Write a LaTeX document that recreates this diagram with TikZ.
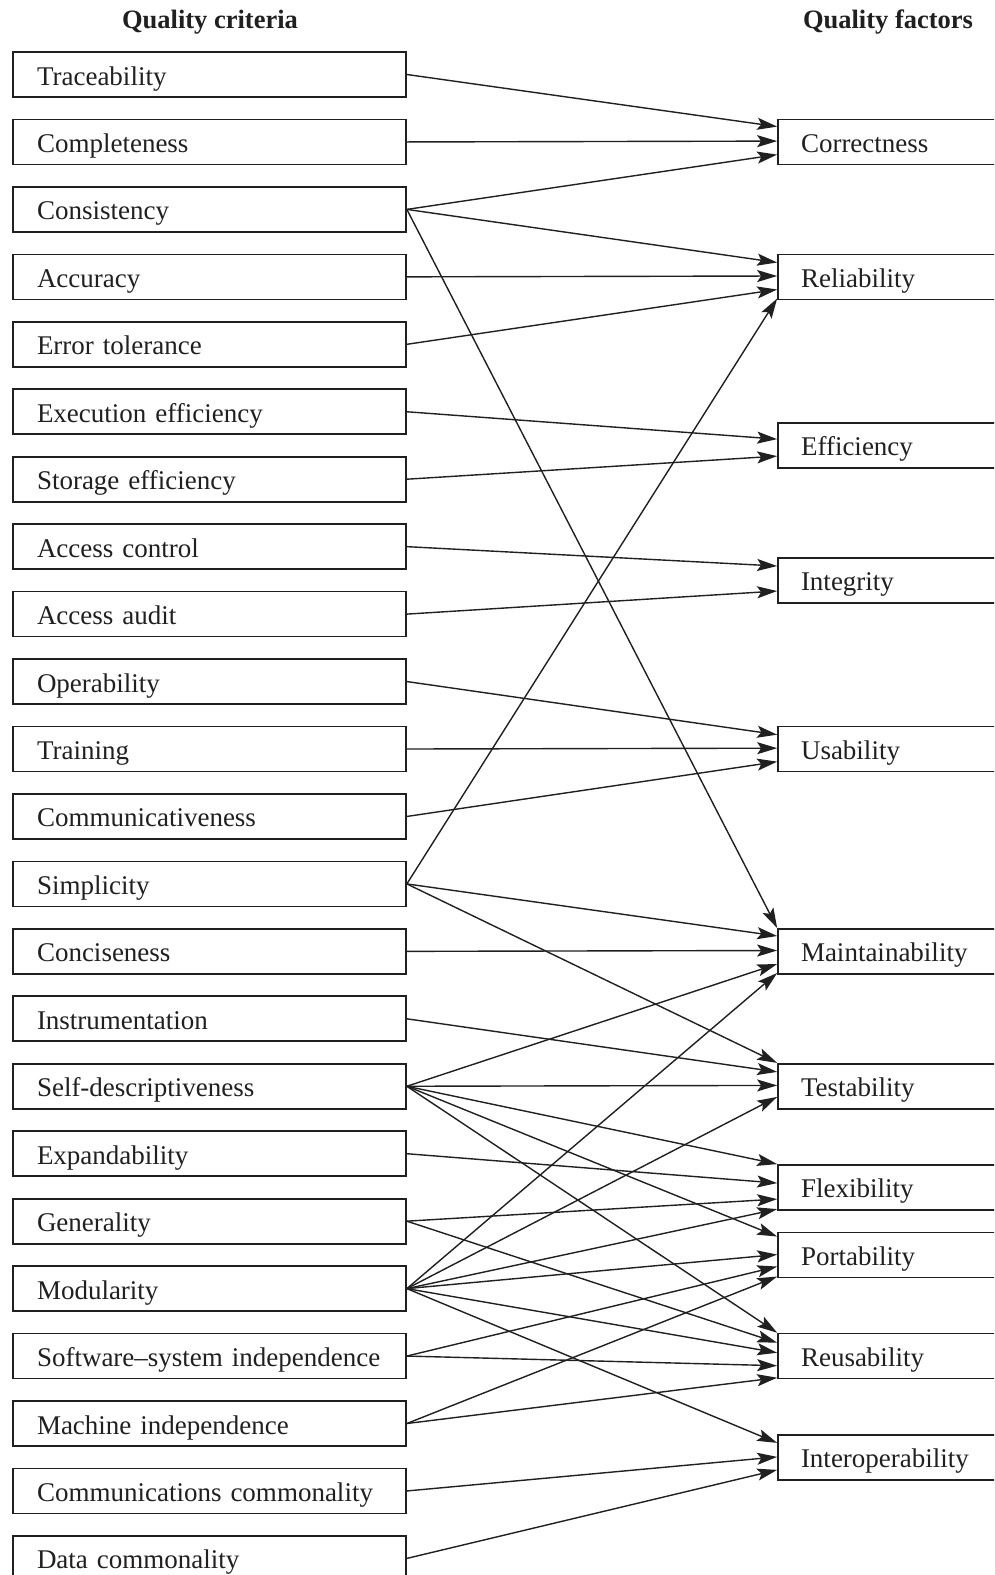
\documentclass[tikz,border=0pt]{standalone}
\usepackage{fontspec}
\setmainfont{Liberation Serif}
\usetikzlibrary{arrows.meta}
\definecolor{ink}{HTML}{202020}
\begin{document}
\begin{tikzpicture}[x=1pt,y=-1pt,
  every node/.style={font=\fontsize{27}{30}\selectfont, text=ink},
  crit/.style={draw=ink, line width=1.7pt, rectangle, inner xsep=24pt, inner ysep=0pt,
    text width=345pt, align=left, minimum height=45pt, text height=23pt, text depth=2pt},
  fact/.style={draw=ink, line width=1.7pt, rectangle, inner xsep=23pt, inner ysep=0pt,
    text width=214pt, align=left, minimum height=45pt, text height=23pt, text depth=2pt},
  head/.style={font=\bfseries\fontsize{26.5}{30}\selectfont, anchor=base, inner sep=0pt},
  conn/.style={draw=ink, line width=1.4pt, -{Stealth[length=20pt,width=12pt,inset=4pt]}}
]
\clip (0,0) rectangle (994,1575);
\fill[white] (0,0) rectangle (994,1575);

% column headings
\node[head] (hcrit) at (210,28) {Quality criteria};
\node[head] (hfact) at (888,28) {Quality factors};

% quality criteria, one row each
\foreach \nm/\txt [count=\i from 0] in {
  trace/Traceability, compl/Completeness, consis/Consistency, accur/Accuracy,
  errtol/Error tolerance, exeff/Execution efficiency, steff/Storage efficiency,
  acctrl/Access control, accaud/Access audit, oper/Operability, train/Training,
  comm/Communicativeness, simpl/Simplicity, conc/Conciseness,
  instr/Instrumentation, selfd/Self-descriptiveness, expand/Expandability,
  gener/Generality, modul/Modularity, ssi/Software--system independence,
  machi/Machine independence, commc/Communications commonality,
  datac/Data commonality}
  \node[crit] (\nm) at (209.5,{74.5+67.45*\i}) {\txt};

% quality factors, placed on the criteria grid
\foreach \nm/\txt/\r in {
  corr/Correctness/1, rel/Reliability/3, eff/Efficiency/5.5,
  integ/Integrity/7.5, usab/Usability/10, maint/Maintainability/13,
  test/Testability/15, flex/Flexibility/16.5, port/Portability/17.5,
  reuse/Reusability/19, interop/Interoperability/20.5}
  \node[fact] (\nm) at (908,{74.5+67.45*\r}) {\txt};

% criterion -> factor links (offset below the factor box's top edge)
\foreach \a/\b/\d in {
  trace/corr/8, compl/corr/22.5, consis/corr/36,
  consis/rel/9, accur/rel/22.5, errtol/rel/36, simpl/rel/45,
  exeff/eff/17, steff/eff/34,
  acctrl/integ/9, accaud/integ/34,
  oper/usab/9, train/usab/22.5, comm/usab/36,
  consis/maint/0, simpl/maint/8, conc/maint/22.5, selfd/maint/36, modul/maint/45,
  simpl/test/0, instr/test/9, selfd/test/22.5, modul/test/34,
  selfd/flex/0, expand/flex/19, gener/flex/35, modul/flex/45,
  selfd/port/5, modul/port/23, ssi/port/35, machi/port/45,
  selfd/reuse/0, gener/reuse/10, modul/reuse/20, ssi/reuse/33, machi/reuse/45,
  modul/interop/9, commc/interop/23, datac/interop/36}
  \draw[conn] (\a.east) -- ([yshift=-\d pt]\b.north west);
\end{tikzpicture}
\end{document}
